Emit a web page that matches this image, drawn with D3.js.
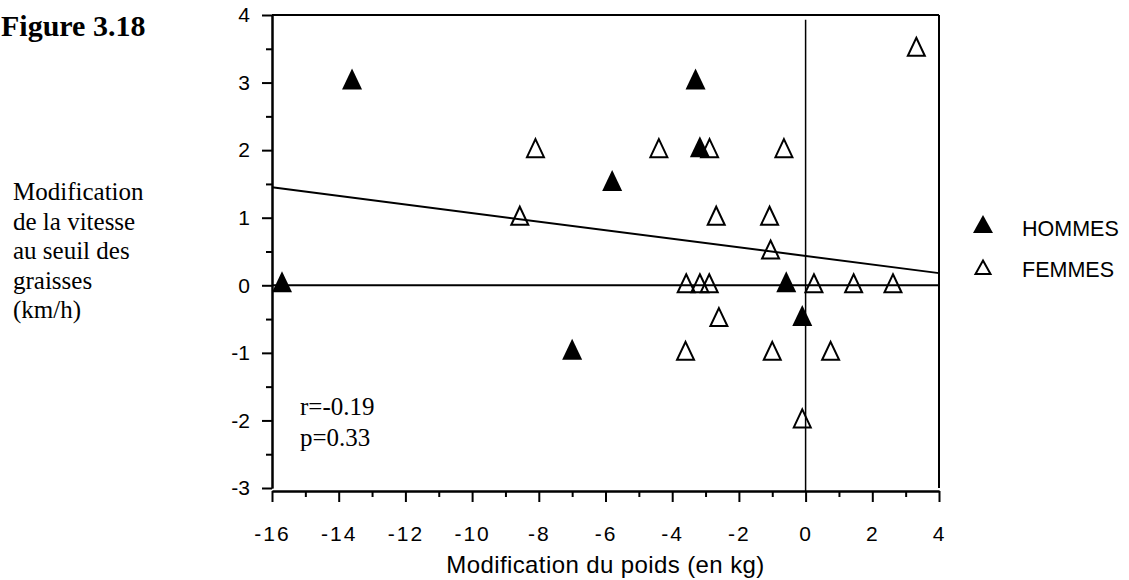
<!DOCTYPE html>
<html>
<head>
<meta charset="utf-8">
<script src="https://cdn.jsdelivr.net/npm/d3@7"></script>
<style>
  body { margin: 0; background: #fff; }
  svg text { fill: #000; }
</style>
</head>
<body>
<div id="chart"></div>
<script>
// values
var hommesX = [-15.7, -13.6, -7.0, -5.8, -3.3, -3.17, -0.58, -0.1];
var hommesY = [0, 3, -1, 1.5, 3, 2, 0, -0.5];

var femmesX = [-8.1, -4.4, -2.88, -0.65, -8.57, -2.68, -1.08, -1.05, -3.58, -3.17, -2.89, 0.25, 1.44, 2.62, 3.32, -2.6, -3.6, -1.0, 0.75, -0.1];
var femmesY = [2, 2, 2, 2, 1, 1, 1, 0.5, 0, 0, 0, 0, 0, 0, 3.5, -0.5, -1, -1, -1, -2];

var fitX = [-16, 4];
var fitY = [1.45, 0.18];

var xMajor = [-16, -14, -12, -10, -8, -6, -4, -2, 0, 2, 4];
var xMinor = [-15, -13, -11, -9, -7, -5, -3, -1, 1, 3];
var yMajor = [-3, -2, -1, 0, 1, 2, 3, 4];
var yMinor = [-2.5, -1.5, -0.5, 0.5, 1.5, 2.5, 3.5];

var yLabel = ["Modification", "de la vitesse", "au seuil des", "graisses", "(km/h)"];
var legendNames = ["HOMMES", "FEMMES"];

var width = 1129, height = 580;

var svg = d3.select("#chart")
  .append("svg")
    .attr("width", width)
    .attr("height", height);

var x = d3.scaleLinear().domain([-16, 4]).range([272, 939]);
var y = d3.scaleLinear().domain([-3, 4]).range([488, 15]);
var axisY = y(-3) + 3;

// plain hyphen for negatives, like the original
var fmt = function(d) { return String(d); };

function tri(top, bottom, half) {
  return {
    draw: function(ctx) {
      ctx.moveTo(0, -top);
      ctx.lineTo(half, bottom);
      ctx.lineTo(-half, bottom);
      ctx.closePath();
    }
  };
}

// title
svg.append("text")
  .attr("x", 1).attr("y", 36)
  .style("font-family", "'Liberation Serif', serif")
  .style("font-weight", "bold")
  .style("font-size", "30px")
  .text("Figure 3.18");

// y label block
svg.append("g").selectAll("text")
  .data(yLabel)
  .enter().append("text")
    .attr("x", 13)
    .attr("y", function(d, i) { return 200 + i * 29.5; })
    .style("font-family", "'Liberation Serif', serif")
    .style("font-size", "25px")
    .text(function(d) { return d; });

// frame: top and right
svg.append("line")
  .attr("x1", x(-16)).attr("x2", x(4))
  .attr("y1", y(4)).attr("y2", y(4))
  .style("stroke", "#000").style("stroke-width", 2);
svg.append("line")
  .attr("x1", x(4)).attr("x2", x(4))
  .attr("y1", y(4)).attr("y2", y(-3))
  .style("stroke", "#000").style("stroke-width", 2);

// left axis
svg.append("g")
  .attr("transform", "translate(" + x(-16) + ",0)")
  .call(d3.axisLeft(y).tickValues(yMinor).tickSize(6).tickSizeOuter(0).tickFormat(""));
var yAx = svg.append("g")
  .attr("transform", "translate(" + x(-16) + ",0)")
  .call(d3.axisLeft(y).tickValues(yMajor).tickSize(10).tickSizeOuter(0).tickPadding(12).tickFormat(fmt));

// bottom axis
svg.append("g")
  .attr("transform", "translate(0," + axisY + ")")
  .call(d3.axisBottom(x).tickValues(xMinor).tickSize(6).tickSizeOuter(0).tickFormat(""));
var xAx = svg.append("g")
  .attr("transform", "translate(0," + axisY + ")")
  .call(d3.axisBottom(x).tickValues(xMajor).tickSize(11).tickSizeOuter(0).tickPadding(24).tickFormat(fmt));

svg.selectAll(".domain, .tick line").style("stroke", "#000").style("stroke-width", 2);
svg.selectAll(".tick text")
  .style("font-family", "'Liberation Sans', Arial, sans-serif")
  .style("font-size", "21px")
  .style("fill", "#000");
xAx.selectAll(".tick text").style("letter-spacing", "2px");

svg.append("text")
  .attr("x", (x(-16) + x(4)) / 2).attr("y", 573)
  .attr("text-anchor", "middle")
  .style("font-family", "'Liberation Sans', Arial, sans-serif")
  .style("font-size", "24px")
  .style("letter-spacing", "0.4px")
  .text("Modification du poids (en kg)");

// reference lines at zero
svg.append("line")
  .attr("x1", x(-16)).attr("x2", x(4))
  .attr("y1", y(0)).attr("y2", y(0))
  .style("stroke", "#000").style("stroke-width", 2);
svg.append("line")
  .attr("x1", x(0)).attr("x2", x(0))
  .attr("y1", y(3.93)).attr("y2", axisY)
  .style("stroke", "#000").style("stroke-width", 1.5);

// regression line
svg.append("path")
  .datum(d3.zip(fitX, fitY))
  .attr("d", d3.line().x(function(d) { return x(d[0]); }).y(function(d) { return y(d[1]); }))
  .style("fill", "none").style("stroke", "#000").style("stroke-width", 2);

// statistics
svg.append("g").selectAll("text")
  .data(["r=-0.19", "p=0.33"])
  .enter().append("text")
    .attr("x", 300)
    .attr("y", function(d, i) { return 415 + i * 31; })
    .style("font-family", "'Liberation Serif', serif")
    .style("font-size", "25px")
    .text(function(d) { return d; });

// points
var openTri = d3.symbol().type(tri(11, 7, 8.5))();
var fullTri = d3.symbol().type(tri(14, 7, 10))();

svg.append("g").selectAll("path")
  .data(d3.zip(femmesX, femmesY))
  .enter().append("path")
    .attr("d", openTri)
    .attr("transform", function(d) { return "translate(" + x(d[0]) + "," + y(d[1]) + ")"; })
    .style("fill", "none").style("stroke", "#000").style("stroke-width", 2);

svg.append("g").selectAll("path")
  .data(d3.zip(hommesX, hommesY))
  .enter().append("path")
    .attr("d", fullTri)
    .attr("transform", function(d) { return "translate(" + x(d[0]) + "," + y(d[1]) + ")"; })
    .style("fill", "#000");

// legend
var legend = svg.append("g").selectAll("g")
  .data(legendNames)
  .enter().append("g")
    .attr("transform", function(d, i) { return "translate(983," + (228 + i * 41) + ")"; });

legend.append("path")
  .attr("d", function(d, i) {
    return i === 0 ? d3.symbol().type(tri(13, 5, 10))() : d3.symbol().type(tri(8.5, 5, 7.5))();
  })
  .style("fill", function(d, i) { return i === 0 ? "#000" : "none"; })
  .style("stroke", "#000")
  .style("stroke-width", function(d, i) { return i === 0 ? 0 : 2; });

legend.append("text")
  .attr("x", 39).attr("y", 8)
  .style("font-family", "'Liberation Sans', Arial, sans-serif")
  .style("font-size", "21.5px")
  .text(function(d) { return d; });
</script>
</body>
</html>
